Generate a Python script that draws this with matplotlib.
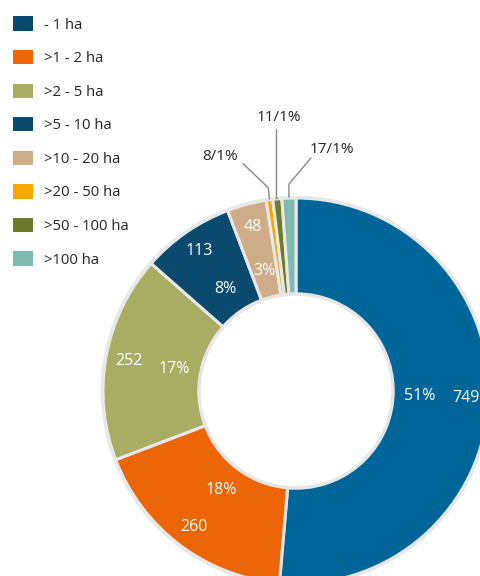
import matplotlib.pyplot as plt
import numpy as np
from matplotlib.patches import Patch

plt.rcParams['font.family'] = ['Open Sans', 'DejaVu Sans']

klassen = ['- 1 ha', '>1 - 2 ha', '>2 - 5 ha', '>5 - 10 ha', '>10 - 20 ha', '>20 - 50 ha', '>50 - 100 ha', '>100 ha']
betriebe = [749, 260, 252, 113, 48, 8, 11, 17]
prozent = [51, 18, 17, 8, 3, 1, 1, 1]
farben = ['#006699', '#ec6608', '#a8ad63', '#0b4a6f', '#cfac88', '#f6a800', '#6e7b2b', '#7fbab1']
legende_farben = ['#0b4a6f'] + farben[1:]

W, H = 480, 576
fig = plt.figure(figsize=(W / 100, H / 100), dpi=100)
ax = fig.add_axes([0, 0, 1, 1])
ax.axis('off')

cx, cy = 296, H - 391
R, ring = 193, 97

# grauer Rand aussen und innen
ax.add_patch(plt.Circle((cx, cy), R + 1.5, color='#e6e6e6', zorder=0))

wedges, _ = ax.pie(betriebe, colors=farben, startangle=90, counterclock=False,
                   center=(cx, cy), radius=R,
                   wedgeprops=dict(width=ring, edgecolor='#e8e8e8', linewidth=2.2))
ax.add_patch(plt.Circle((cx, cy), R - ring + 1, color='white', ec='#e6e6e6', lw=2.5, zorder=5))
ax.set_xlim(0, W)
ax.set_ylim(0, H)
ax.set_aspect('equal')

for w, n, p in zip(wedges, betriebe, prozent):
    ang = np.deg2rad((w.theta1 + w.theta2) / 2)
    if n < 20:
        continue
    ax.text(cx + 170 * np.cos(ang), cy + 170 * np.sin(ang), str(n), color='white',
            ha='center', va='center', fontsize=11.5)
    ax.text(cx + 124 * np.cos(ang), cy + 124 * np.sin(ang), f'{p}%', color='white',
            ha='center', va='center', fontsize=11.5)

# kleine Segmente mit Hinweislinien: Textversatz, Knick, Linienende am Text
versatz = [(-49, 42), (2, 80), (43, 48)]
knick = [(-1, 11), (-1, 0), (0, 13)]
ansatz = [(23, -7), (-3, -11), (-21, -9)]
klein = [i for i, n in enumerate(betriebe) if n < 20]
for (dx, dy), (kx, ky), (ax_, ay_), i in zip(versatz, knick, ansatz, klein):
    w = wedges[i]
    ang = np.deg2rad((w.theta1 + w.theta2) / 2)
    x0, y0 = cx + (R + 1) * np.cos(ang), cy + (R + 1) * np.sin(ang)
    tx, ty = x0 + dx, y0 + dy
    ax.plot([x0, x0 + kx, tx + ax_], [y0, y0 + ky, ty + ay_], color='#888888', lw=1)
    ax.text(tx, ty, f'{betriebe[i]}/{prozent[i]}%', ha='center', va='center',
            fontsize=11, color='#222222')

handles = [Patch(facecolor=c, edgecolor='none') for c in legende_farben]
fig.legend(handles, klassen, loc='upper left', bbox_to_anchor=(0 / W, 1 - 3 / H),
           frameon=False, fontsize=10.7, handlelength=1.3, handleheight=1.1,
           handletextpad=0.75, labelspacing=1.17, labelcolor='#222222')

fig.savefig('out.png', dpi=100)
